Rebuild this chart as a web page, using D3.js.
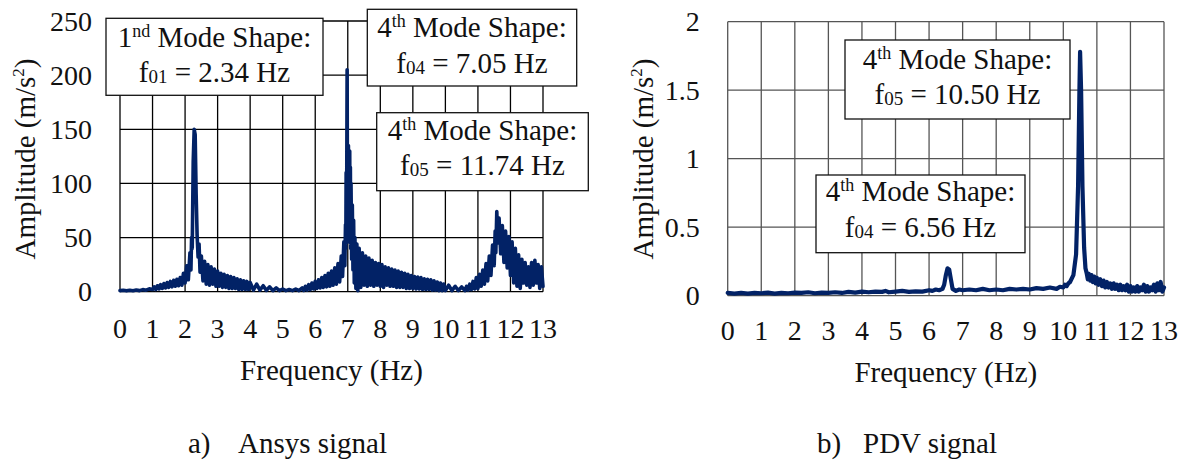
<!DOCTYPE html>
<html><head><meta charset="utf-8">
<script src="https://cdn.jsdelivr.net/npm/d3@7"></script>
<style>html,body{margin:0;padding:0;background:#fff;}svg{display:block;}
svg text{font-family:"Liberation Serif","Times New Roman",Times,Tinos,"Noto Serif","DejaVu Serif",FreeSerif,serif;}
</style>
</head><body>
<svg id="chart" width="1184" height="461"></svg>
<script>
// ---------- DATA ----------
const xTicks = [0,1,2,3,4,5,6,7,8,9,10,11,12,13];
const yTicksA = [0,50,100,150,200,250];
const yTicksB = [0,0.5,1,1.5,2];
const yTickLabelsB = ["0","0.5","1","1.5","2"];

// a) Ansys signal: [frequency Hz, amplitude m/s^2]
const seriesA = [[0,1],[0.1,1.3],[0.2,0.8],[0.3,1.4],[0.4,0.9],[0.5,1.5],[0.6,1.0],[0.7,1.9],[0.8,1.4],[0.9,2.6],[1.0,2.0],
[1.05,4.5],[1.1,2],[1.15,5.5],[1.2,2.5],[1.25,6.5],[1.3,3],[1.35,7.5],[1.4,3.5],[1.45,8.5],[1.5,4],[1.55,9.5],[1.6,4.5],[1.65,10.5],[1.7,5],[1.75,11.5],[1.8,5.5],[1.85,13],[1.9,6],[1.95,17],[2.0,8],
[2.05,24],[2.1,11],[2.15,36],[2.18,20],[2.2,50],[2.22,40],[2.25,120],[2.28,150],[2.31,145],[2.34,90],[2.37,52],[2.4,32],[2.43,44],[2.46,18],[2.5,33],[2.55,10],[2.6,28],[2.65,7],[2.7,25],[2.75,6],[2.8,23],[2.85,7],[2.9,21],[2.95,5],[3.0,19],[3.05,5],[3.1,17],[3.15,4],[3.2,16],[3.25,4],[3.3,15],[3.35,3],[3.4,14],[3.45,3],[3.5,13],[3.55,3],[3.6,12],[3.65,2],[3.7,11],[3.75,2],[3.8,10],[3.85,2],[3.9,9.5],[3.95,2],[4.0,8.5],[4.1,1.5],[4.2,7],[4.3,1.5],[4.4,5.5],[4.5,1.2],[4.6,4.5],[4.7,1],[4.8,3.5],[4.9,1],[5.0,2.5],[5.1,1],[5.2,2],[5.3,1],[5.4,2.5],[5.5,1],[5.6,3.5],[5.65,1.2],[5.7,5],[5.75,1.5],[5.8,6.5],[5.85,2],[5.9,8],[5.95,2.5],[6.0,9.5],[6.05,3],[6.1,11],[6.15,3.5],[6.2,13],[6.25,4],[6.3,15],[6.35,4.5],[6.4,17],[6.45,5],[6.5,19],[6.55,6],[6.6,22],[6.65,7],[6.7,26],[6.75,9],[6.8,33],[6.84,14],[6.88,46],[6.91,24],[6.93,62],[6.94,40],[6.95,110],[6.96,45],[6.97,120],[6.98,205],[6.99,90],[7.0,130],[7.01,70],[7.02,135],[7.03,60],[7.04,128],[7.05,55],[7.06,130],[7.07,45],[7.08,115],[7.09,40],[7.1,100],[7.12,30],[7.14,80],[7.16,20],[7.18,66],[7.2,8],[7.22,50],[7.25,3],[7.28,44],[7.31,1],[7.35,40],[7.4,4],[7.45,36],[7.5,6],[7.55,33],[7.6,5],[7.65,31],[7.7,6],[7.75,29],[7.8,5],[7.85,27],[7.9,6],[7.95,26],[8.0,5],[8.05,25],[8.1,4],[8.15,23],[8.2,6],[8.25,22],[8.3,5],[8.35,21],[8.4,5],[8.45,20],[8.5,4],[8.55,19],[8.6,4],[8.65,18],[8.7,4],[8.75,17],[8.8,3],[8.85,16],[8.9,3],[8.95,15],[9.0,3],[9.05,14],[9.1,2.5],[9.15,13.5],[9.2,2.5],[9.25,13],[9.3,2],[9.35,12],[9.4,2],[9.45,11.5],[9.5,2],[9.55,11],[9.6,1.5],[9.65,10],[9.7,1.5],[9.75,9],[9.8,1],[9.85,8],[9.9,1],[9.95,7],[10.0,1],[10.1,6],[10.2,1],[10.3,5],[10.4,1],[10.5,4.5],[10.6,1],[10.65,5],[10.7,1.5],[10.75,7],[10.8,2],[10.85,9.5],[10.9,2.5],[10.95,13],[11.0,3],[11.05,16],[11.1,5],[11.15,20],[11.2,7],[11.25,26],[11.3,10],[11.35,33],[11.4,15],[11.45,43],[11.5,24],[11.53,56],[11.55,36],[11.58,74],[11.61,45],[11.65,68],[11.7,35],[11.75,61],[11.8,27],[11.85,56],[11.9,22],[11.95,51],[12.0,15],[12.05,46],[12.1,8],[12.15,40],[12.2,5],[12.25,34],[12.3,3],[12.35,30],[12.4,8],[12.45,27],[12.5,6],[12.55,23],[12.6,4],[12.65,27],[12.7,6],[12.75,29],[12.8,8],[12.85,25],[12.9,3],[12.95,23],[13.0,5]];

// b) PDV signal: [frequency Hz, amplitude m/s^2]
const seriesB = [[0,0.02],[0.2,0.015],[0.4,0.02],[0.6,0.015],[0.8,0.02],[1.0,0.018],[1.2,0.022],[1.4,0.015],[1.6,0.02],[1.8,0.018],[2.0,0.022],[2.2,0.02],[2.4,0.025],[2.6,0.018],[2.8,0.022],[3.0,0.02],[3.2,0.025],[3.4,0.02],[3.6,0.028],[3.8,0.022],[4.0,0.03],[4.2,0.025],[4.4,0.03],[4.6,0.028],[4.7,0.035],[4.8,0.025],[5.0,0.03],[5.2,0.035],[5.4,0.028],[5.6,0.032],[5.8,0.03],[6.0,0.04],[6.1,0.035],[6.2,0.045],[6.3,0.04],[6.4,0.05],[6.45,0.08],[6.5,0.15],[6.55,0.2],[6.6,0.19],[6.65,0.12],[6.7,0.05],[6.8,0.035],[6.9,0.045],[7.0,0.04],[7.2,0.045],[7.4,0.04],[7.6,0.05],[7.8,0.04],[8.0,0.045],[8.2,0.04],[8.4,0.05],[8.6,0.045],[8.8,0.05],[9.0,0.045],[9.2,0.055],[9.4,0.05],[9.6,0.06],[9.8,0.05],[9.9,0.065],[10.0,0.06],[10.05,0.08],[10.1,0.07],[10.15,0.09],[10.2,0.1],[10.3,0.15],[10.38,0.3],[10.44,0.8],[10.48,1.5],[10.5,1.78],[10.53,1.5],[10.57,0.8],[10.62,0.35],[10.66,0.2],[10.7,0.16],[10.73,0.12],[10.76,0.16],[10.8,0.11],[10.84,0.15],[10.88,0.1],[10.92,0.14],[10.96,0.09],[11.0,0.13],[11.05,0.08],[11.1,0.12],[11.15,0.07],[11.2,0.11],[11.25,0.06],[11.3,0.1],[11.35,0.06],[11.4,0.09],[11.45,0.05],[11.5,0.09],[11.55,0.05],[11.6,0.08],[11.65,0.04],[11.7,0.08],[11.75,0.04],[11.8,0.07],[11.85,0.04],[11.9,0.08],[11.95,0.03],[12.0,0.07],[12.05,0.03],[12.1,0.06],[12.15,0.03],[12.2,0.07],[12.25,0.03],[12.3,0.06],[12.35,0.04],[12.4,0.08],[12.45,0.03],[12.5,0.07],[12.55,0.03],[12.6,0.06],[12.65,0.04],[12.7,0.08],[12.75,0.03],[12.8,0.09],[12.85,0.04],[12.9,0.1],[12.95,0.03],[13.0,0.06]];

// annotation texts: [main, superscript, rest] and [main, subscript, rest]
const notesA = [
  {l1:["1","nd"," Mode Shape:"], l2:["f","01"," = 2.34 Hz"]},
  {l1:["4","th"," Mode Shape:"], l2:["f","04"," = 7.05 Hz"]},
  {l1:["4","th"," Mode Shape:"], l2:["f","05"," = 11.74 Hz"]}
];
const notesB = [
  {l1:["4","th"," Mode Shape:"], l2:["f","05"," = 10.50 Hz"]},
  {l1:["4","th"," Mode Shape:"], l2:["f","04"," = 6.56 Hz"]}
];

// ---------- DRAW ----------
const svg = d3.select("#chart");
const LINE = "#022266";

function panel(opt){
  const g = svg.append("g");
  const x = d3.scaleLinear().domain([0,13]).range(opt.xr);
  const y = d3.scaleLinear().domain(opt.ydom).range(opt.yr);
  g.append("g").selectAll("line").data(opt.yTicks).join("line")
    .attr("x1",opt.xr[0]).attr("x2",opt.xr[1])
    .attr("y1",d=>y(d)).attr("y2",d=>y(d))
    .attr("stroke",opt.grid).attr("stroke-width",1.3);
  g.append("g").selectAll("line").data(xTicks).join("line")
    .attr("x1",d=>x(d)).attr("x2",d=>x(d))
    .attr("y1",opt.yr[0]).attr("y2",opt.yr[1])
    .attr("stroke",opt.grid).attr("stroke-width",1.3);
  g.append("g").selectAll("text").data(opt.yTicks).join("text")
    .attr("x",opt.xr[0]-28).attr("y",d=>y(d)).attr("dy","0.34em")
    .attr("text-anchor","end").attr("font-size",28)
    .attr("fill","#111").text((d,i)=>opt.yLabels ? opt.yLabels[i] : d);
  g.append("g").selectAll("text").data(xTicks).join("text")
    .attr("x",d=>x(d)).attr("y",opt.xLabelY)
    .attr("text-anchor","middle").attr("font-size",28)
    .attr("fill","#111").text(d=>d);
  g.append("path").datum(opt.pts)
    .attr("d",d3.line().x(d=>x(d[0])).y(d=>y(d[1])))
    .attr("fill","none").attr("stroke",LINE).attr("stroke-width",opt.lw)
    .attr("stroke-linejoin","round").attr("stroke-linecap","round");
  g.append("text").attr("x",(opt.xr[0]+opt.xr[1])/2).attr("y",opt.xTitleY)
    .attr("text-anchor","middle").attr("font-size",29)
    .attr("fill","#111").text("Frequency (Hz)");
  const yt = g.append("text").attr("transform",`translate(${opt.yTitleX},159) rotate(-90)`)
    .attr("text-anchor","middle").attr("font-size",29).attr("fill","#111");
  yt.append("tspan").text("Amplitude (m/s");
  yt.append("tspan").attr("font-size",17).attr("dy",-11).text("2");
  yt.append("tspan").attr("dy",11).text(")");
  g.append("text").attr("x",opt.cap[0]).attr("y",453)
    .attr("font-size",29).attr("fill","#111").text(opt.cap[2]);
  g.append("text").attr("x",opt.cap[1]).attr("y",453)
    .attr("font-size",29).attr("fill","#111").text(opt.cap[3]);
  opt.boxes.forEach((b,i)=>{
    const n = opt.notes[i];
    g.append("rect").attr("x",b[0]).attr("y",b[1]).attr("width",b[2]).attr("height",b[3])
      .attr("fill","#fff").attr("stroke","#111").attr("stroke-width",1.3);
    const cx = b[0]+b[2]/2;
    const t1 = g.append("text").attr("x",cx).attr("y",b[4]).attr("text-anchor","middle")
      .attr("font-size",29).attr("fill","#111");
    t1.append("tspan").text(n.l1[0]);
    t1.append("tspan").attr("font-size",18).attr("dy",-10).text(n.l1[1]);
    t1.append("tspan").attr("dy",10).text(n.l1[2]);
    const t2 = g.append("text").attr("x",cx).attr("y",b[5]).attr("text-anchor","middle")
      .attr("font-size",29).attr("fill","#111");
    t2.append("tspan").text(n.l2[0]);
    t2.append("tspan").attr("font-size",19).attr("dy",1).text(n.l2[1]);
    t2.append("tspan").attr("dy",-1).text(n.l2[2]);
  });
}

panel({
  xr:[120,543], yr:[291.7,21], ydom:[0,250], yTicks:yTicksA, grid:"#000",
  pts:seriesA, lw:3.6, xLabelY:338, xTitleY:380, yTitleX:35,
  cap:[188,238,"a)","Ansys signal"], notes:notesA,
  boxes:[[106,18.3,217,77,47,82],[367.3,9.3,209.4,76.7,36.5,73],[376.7,112.7,211.6,78,140,175]]
});
panel({
  xr:[727.7,1164], yr:[295.7,21.7], ydom:[0,2], yTicks:yTicksB, yLabels:yTickLabelsB, grid:"#555",
  pts:seriesB, lw:4.2, xLabelY:340, xTitleY:382, yTitleX:653,
  cap:[817,863,"b)","PDV signal"], notes:notesB,
  boxes:[[845,40,225,79,68.5,103.5],[816,175,209,77.7,201,237]]
});
</script>
</body></html>
